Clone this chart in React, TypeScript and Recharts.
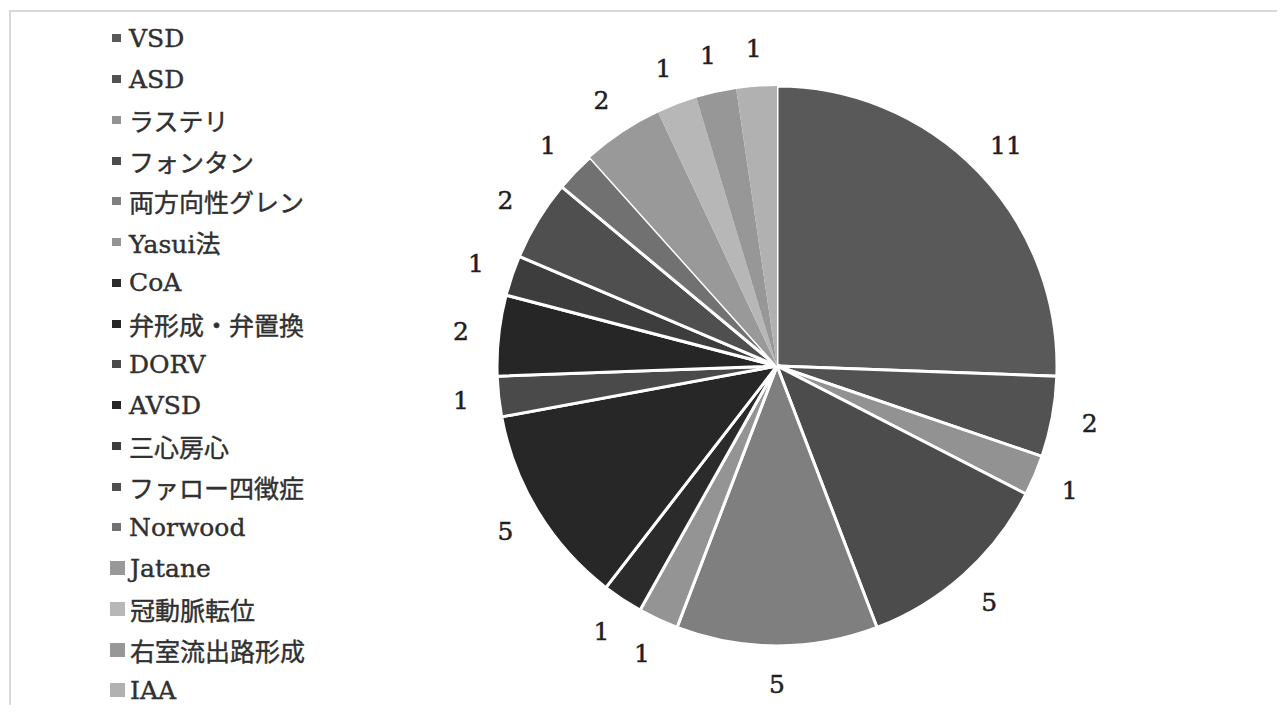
import { PieChart, Pie, Cell, Legend } from "recharts";

const procedures = [
  "VSD",
  "ASD",
  "ラステリ",
  "フォンタン",
  "両方向性グレン",
  "Yasui法",
  "CoA",
  "弁形成・弁置換",
  "DORV",
  "AVSD",
  "三心房心",
  "ファロー四徴症",
  "Norwood",
  "Jatane",
  "冠動脈転位",
  "右室流出路形成",
  "IAA",
];
const cases = [11, 2, 1, 5, 5, 1, 1, 5, 1, 2, 1, 2, 1, 2, 1, 1, 1];

const shades = [
  "#595959", "#525252", "#929292", "#4c4c4c", "#7f7f7f", "#949494",
  "#2b2b2b", "#272727", "#4a4a4a", "#262626", "#3d3d3d", "#4f4f4f",
  "#717171", "#999999", "#b7b7b7", "#979797", "#b1b1b1",
];
// the last few slices are drawn without the white separator
const OUTLINED = 13;

const pieData = procedures.map((name, i) => ({ name, value: cases[i] }));

const FONT = "'DejaVu Serif', 'Noto Sans CJK JP', serif";
const RADIAN = Math.PI / 180;

const renderLabel = (props: any) => {
  const { cx, cy, midAngle, outerRadius, value } = props;
  const r = outerRadius + 38;
  const x = cx + r * Math.cos(-midAngle * RADIAN);
  const y = cy + r * Math.sin(-midAngle * RADIAN);
  return (
    <text
      x={x}
      y={y}
      textAnchor="middle"
      dominantBaseline="central"
      fill="#1f1f1f"
      stroke="#1f1f1f"
      strokeWidth={0.5}
      fontSize={25}
      fontFamily={FONT}
    >
      {value}
    </text>
  );
};

// keep the legend in slice order rather than alphabetical
const renderLegend = (props: any) => {
  const items = [...(props.payload || [])].sort(
    (a: any, b: any) => procedures.indexOf(a.value) - procedures.indexOf(b.value)
  );
  return (
    <div
      style={{
        fontFamily: FONT,
        fontSize: 25,
        color: "#303030",
        WebkitTextStroke: "0.4px #303030",
      }}
    >
      {items.map((entry: any) => {
        const i = procedures.indexOf(entry.value);
        const big = i >= OUTLINED;
        return (
          <div
            key={entry.value}
            style={{
              height: 40.75,
              display: "flex",
              alignItems: "center",
              whiteSpace: "nowrap",
            }}
          >
            <span
              style={{
                display: "inline-block",
                width: big ? 15 : 9,
                height: big ? 14 : 8,
                marginLeft: big ? 0 : 2,
                marginRight: big ? 5 : 8,
                background: shades[i],
              }}
            />
            <span>{entry.value}</span>
          </div>
        );
      })}
    </div>
  );
};

export default function App() {
  return (
    <div
      style={{
        margin: -8,
        position: "relative",
        width: 1285,
        height: 713,
        overflow: "hidden",
        background: "#fff",
      }}
    >
      <div
        style={{
          position: "absolute",
          left: 9,
          top: 10,
          width: 1400,
          height: 800,
          border: "2px solid #d9d9d9",
        }}
      />
      <PieChart
        width={1285}
        height={713}
        margin={{ top: 0, right: 0, bottom: 0, left: 0 }}
        style={{ position: "absolute", left: 0, top: 0 }}
      >
        <Pie
          data={pieData}
          dataKey="value"
          nameKey="name"
          cx={777}
          cy={366}
          outerRadius={280}
          startAngle={90}
          endAngle={-270}
          label={renderLabel}
          labelLine={false}
          isAnimationActive={false}
        >
          {pieData.map((entry, i) => (
            <Cell
              key={entry.name}
              fill={shades[i]}
              stroke={i < OUTLINED ? "#ffffff" : "none"}
              strokeWidth={i < OUTLINED ? 3 : 0}
            />
          ))}
        </Pie>
        <Legend
          layout="horizontal"
          align="center"
          verticalAlign="middle"
          content={renderLegend}
          wrapperStyle={{ left: 110, top: 18, width: 260, height: 700 }}
        />
      </PieChart>
    </div>
  );
}
